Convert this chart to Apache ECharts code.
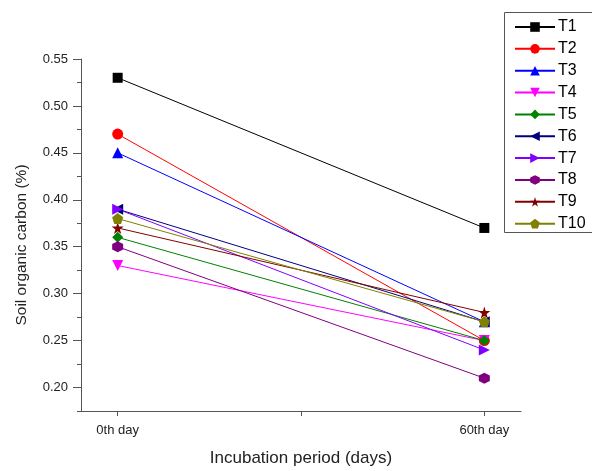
<!DOCTYPE html>
<html><head><meta charset="utf-8">
<script src="https://cdn.jsdelivr.net/npm/echarts@6/dist/echarts.min.js"></script>
<style>html,body{margin:0;padding:0;background:#fff}#c{width:592px;height:471px}</style>
</head><body><div id="c"></div>
<script>
const categories = ['0th day', '60th day'];
const xPositions = [0, 1];
const seriesNames = ['T1','T2','T3','T4','T5','T6','T7','T8','T9','T10'];
const T1 = [0.53, 0.37];
const T2 = [0.47, 0.25];
const T3 = [0.45, 0.27];
const T4 = [0.33, 0.25];
const T5 = [0.36, 0.25];
const T6 = [0.39, 0.27];
const T7 = [0.39, 0.24];
const T8 = [0.35, 0.21];
const T9 = [0.37, 0.28];
const T10 = [0.38, 0.27];
const yTicks = [0.20, 0.25, 0.30, 0.35, 0.40, 0.45, 0.50, 0.55];
const values = [T1,T2,T3,T4,T5,T6,T7,T8,T9,T10];

const colors = ['#000000','#ff0000','#0000ff','#ff00ff','#008000','#000080','#8000ff','#800080','#800000','#808000'];
const symbols = ['rect','circle','triangle','triangle','diamond','triangle','triangle',
  'path://M25,0 L75,0 L100,50 L75,100 L25,100 L0,50 Z',
  'path://M50,0 L61,35 L98,35 L68,57 L79,91 L50,70 L21,91 L32,57 L2,35 L39,35 Z',
  'path://M50,0 L100,38 L81,100 L19,100 L0,38 Z'];
const rotates = [0,0,0,180,0,90,-90,90,0,0];
const sizes = [10,11,11,11,11,11,11,11,12,11];

const chart = echarts.init(document.getElementById('c'), null, {renderer:'canvas'});
const axisCol = '#555';
chart.setOption({
  animation:false,
  grid:{left:81, right:71, top:59, bottom:60, outerBoundsMode:'none', containLabel:false},
  graphic:[{type:'rect', shape:{x:504.5, y:12.5, width:120, height:220}, style:{fill:'none', stroke:'#555', lineWidth:1}, z:100}],
  legend:{
    orient:'vertical', left:504, top:12,
    padding:[7,10,2,10],
    itemWidth:40, itemHeight:12, itemGap:5.85,
    textStyle:{fontFamily:'Liberation Sans, Arial', fontSize:16, color:'#000', padding:[0,0,0,-2]},
    data: seriesNames
  },
  xAxis:{
    type:'value', min:-0.1, max:1.1,
    name:'Incubation period (days)', nameLocation:'middle', nameGap:39,
    nameTextStyle:{fontFamily:'Liberation Sans, Arial', fontSize:17, color:'#222'},
    axisLine:{onZero:false, lineStyle:{color:axisCol}},
    axisTick:{show:true, inside:false, length:5, customValues:[0,0.5,1], lineStyle:{color:axisCol}},
    axisLabel:{customValues:xPositions, formatter:(v)=>{const i=xPositions.indexOf(v);return i>=0?categories[i]:'';},
      fontFamily:'Liberation Sans, Arial', fontSize:13, color:'#222', margin:13},
    splitLine:{show:false}
  },
  yAxis:[{
    type:'value', min:0.175, max:0.55,
    name:'Soil organic carbon (%)', nameLocation:'middle', nameGap:51,
    nameTextStyle:{fontFamily:'Liberation Sans, Arial', fontSize:15.5, color:'#222', padding:[0,20,0,0]},
    axisLine:{show:true, onZero:false, lineStyle:{color:axisCol}},
    axisTick:{show:true, length:8, customValues:yTicks, lineStyle:{color:axisCol}},
    axisLabel:{customValues:yTicks, formatter:(v)=>v.toFixed(2), fontFamily:'Liberation Sans, Arial', fontSize:13, color:'#222', margin:13},
    splitLine:{show:false}
  },{
    type:'value', min:0.175, max:0.55, interval:0.025, position:'left', offset:0,
    axisLine:{show:false, onZero:false},
    axisTick:{show:true, length:4, lineStyle:{color:axisCol}},
    axisLabel:{show:false}, splitLine:{show:false}
  }],
  series: seriesNames.map((n,i)=>({
    name:n, type:'line', yAxisIndex:0,
    data: xPositions.map((x,j)=>[x, values[i][j]]),
    symbol: symbols[i], symbolRotate: rotates[i], symbolSize: sizes[i],
    showAllSymbol:true,
    lineStyle:{color:colors[i], width:1},
    itemStyle:{color:colors[i]}
  }))
});
</script></body></html>
